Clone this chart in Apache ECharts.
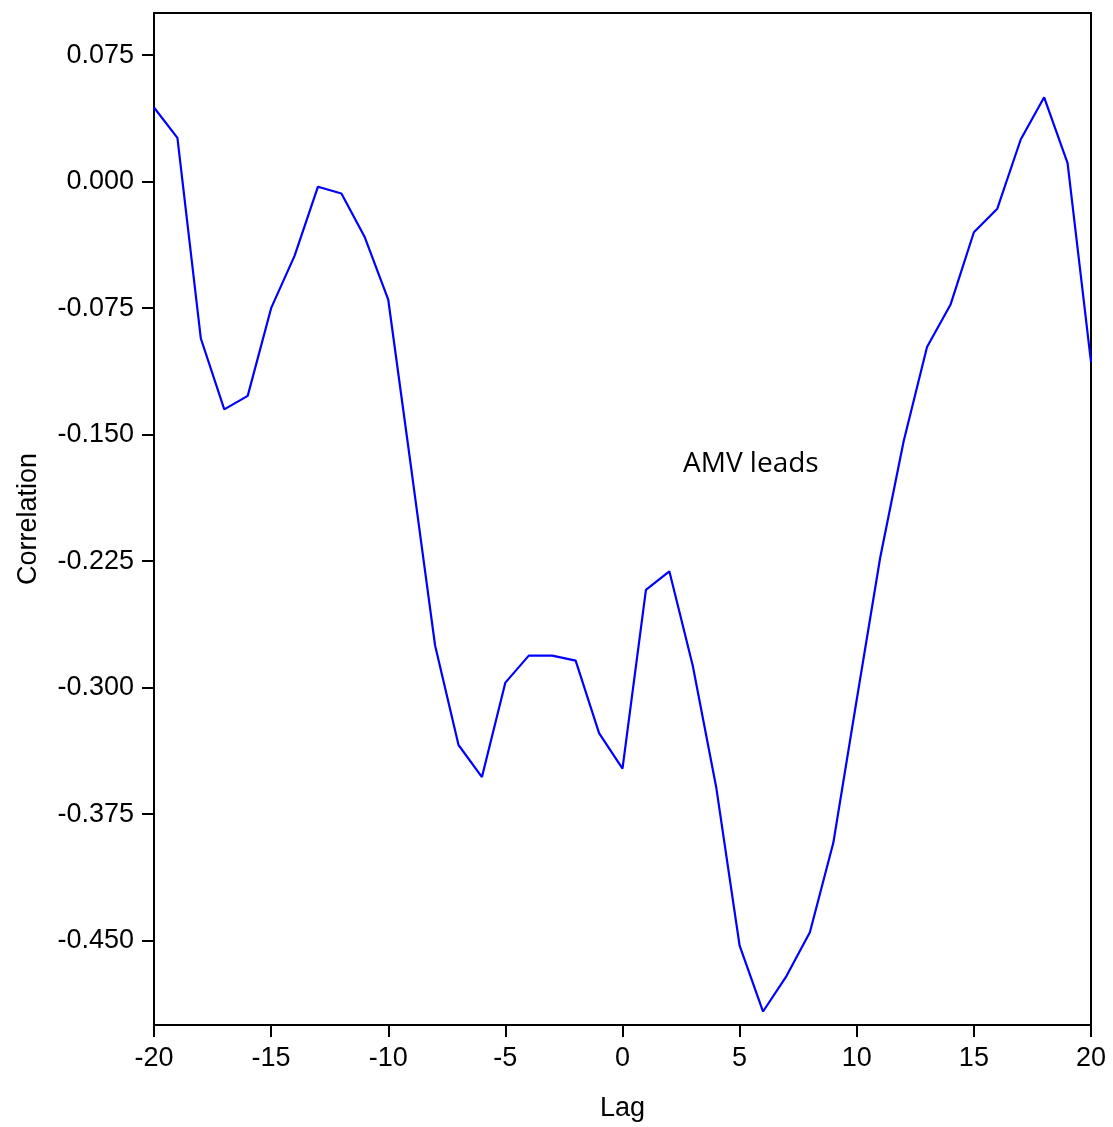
<!DOCTYPE html>
<html>
<head>
<meta charset="utf-8">
<script src="https://cdn.jsdelivr.net/npm/echarts@6/dist/echarts.min.js"></script>
<style>
  html, body { margin: 0; padding: 0; background: #fff; }
  #chart { width: 1113px; height: 1127px; }
</style>
</head>
<body>
<div id="chart"></div>
<script>
// lags -20 .. 20
var lags = [-20, -19, -18, -17, -16, -15, -14, -13, -12, -11, -10, -9, -8, -7, -6, -5, -4, -3, -2, -1,
  0, 1, 2, 3, 4, 5, 6, 7, 8, 9, 10, 11, 12, 13, 14, 15, 16, 17, 18, 19, 20]
// correlation
var corr = [0.044, 0.026, -0.093, -0.135, -0.127, -0.075, -0.044, -0.003, -0.007, -0.033, -0.070,
  -0.172, -0.275, -0.334, -0.353, -0.297, -0.281, -0.281, -0.284, -0.327,
  -0.348, -0.242, -0.231, -0.287, -0.359, -0.453, -0.492, -0.471, -0.445, -0.392,
  -0.307, -0.223, -0.154, -0.098, -0.073, -0.030, -0.016, 0.025, 0.050, 0.011, -0.107]
var yTicks = [-0.45, -0.375, -0.3, -0.225, -0.15, -0.075, 0, 0.075]
var xTicks = [-20, -15, -10, -5, 0, 5, 10, 15, 20]

var font = 'Liberation Sans, Arial, Helvetica, sans-serif'
var chart = echarts.init(document.getElementById('chart'))

chart.setOption({
  animation: false,
  backgroundColor: '#fff',
  grid: {
    left: 154,
    right: 22,
    top: 13,
    bottom: 101,
    show: true,
    borderColor: '#000',
    borderWidth: 2
  },
  xAxis: {
    type: 'value',
    min: -20,
    max: 20,
    interval: 5,
    name: 'Lag',
    nameLocation: 'middle',
    nameGap: 70,
    nameTextStyle: { color: '#000', fontSize: 27, fontFamily: font },
    axisLine: { onZero: false, lineStyle: { color: '#000', width: 2 } },
    axisTick: { show: true, length: 12, lineStyle: { color: '#000', width: 2 }, customValues: xTicks },
    axisLabel: { color: '#000', fontSize: 27, fontFamily: font, margin: 20, customValues: xTicks },
    splitLine: { show: false }
  },
  yAxis: {
    type: 'value',
    min: -0.5,
    max: 0.1,
    name: 'Correlation',
    nameLocation: 'middle',
    nameGap: 112,
    nameRotate: 90,
    nameTextStyle: { color: '#000', fontSize: 27, fontFamily: font },
    axisLine: { show: true, onZero: false, lineStyle: { color: '#000', width: 2 } },
    axisTick: { show: true, length: 12, lineStyle: { color: '#000', width: 2 }, customValues: yTicks },
    axisLabel: {
      color: '#000',
      fontSize: 27,
      fontFamily: font,
      margin: 20,
      customValues: yTicks,
      formatter: function (v) { return v.toFixed(3) }
    },
    splitLine: { show: false }
  },
  graphic: [
    {
      type: 'text',
      left: 683,
      top: 450,
      style: {
        text: 'AMV leads',
        fill: '#000',
        fontSize: 28,
        fontFamily: 'Open Sans, Noto Sans, sans-serif'
      }
    }
  ],
  series: [
    {
      type: 'line',
      data: lags.map(function (l, i) { return [l, corr[i]] }),
      showSymbol: false,
      lineStyle: { color: '#0000ff', width: 2.2 },
      itemStyle: { color: '#0000ff' }
    }
  ]
})
</script>
</body>
</html>
